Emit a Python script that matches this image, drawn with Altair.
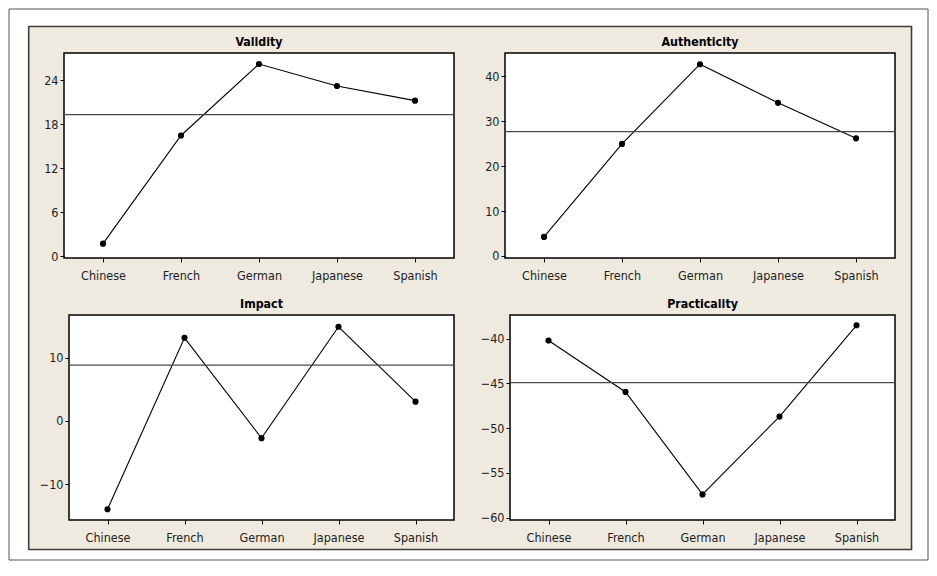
import altair as alt
import pandas as pd

languages = ["Chinese", "French", "German", "Japanese", "Spanish"]

validity = [1.7, 16.45, 26.2, 23.2, 21.2]
authenticity = [4.25, 24.96, 42.7, 34.1, 26.2]
impact = [-13.9, 13.1, -2.7, 14.85, 3.04]
practicality = [-40.2, -45.95, -57.4, -48.7, -38.5]

reference_values = {"Validity": 19.3, "Authenticity": 27.7, "Impact": 8.8, "Practicality": -44.9}
y_domains = {
    "Validity": [-0.26, 27.7],
    "Authenticity": [-0.45, 45.2],
    "Impact": [-15.6, 16.7],
    "Practicality": [-60.26, -37.35],
}
y_ticks = {
    "Validity": [0, 6, 12, 18, 24],
    "Authenticity": [0, 10, 20, 30, 40],
    "Impact": [-10, 0, 10],
    "Practicality": [-60, -55, -50, -45, -40],
}

FONT = "DejaVu Sans Condensed"
BEIGE = "#EEEAE0"
W = 390
H = 205

one = pd.DataFrame({"a": [0]})


def panel(name, values, x0=0, extra=None):
    df = pd.DataFrame({"Language": languages, "Value": values})
    x = alt.X("Language:N", sort=languages,
              scale=alt.Scale(type="point", padding=0.5, range=[x0, W]),
              axis=alt.Axis(title=None, labelAngle=0, zindex=2))
    yaxis = alt.Axis(title=None, values=y_ticks[name], zindex=2, offset=-x0)
    y = alt.Y("Value:Q", scale=alt.Scale(domain=y_domains[name], nice=False, zero=False), axis=yaxis)
    box = alt.Chart(one).mark_rect(fill="white", stroke="black", strokeWidth=1.5).encode(
        x=alt.value(x0), x2=alt.value(W), y=alt.value(0), y2=alt.value(H))
    base = alt.Chart(df)
    line = base.mark_line(color="black", strokeWidth=1.1).encode(x=x, y=y)
    pts = base.mark_circle(color="black", size=38, opacity=1).encode(x=x, y=y)
    rule = alt.Chart(pd.DataFrame({"ref": [reference_values[name]]})).mark_rule(
        color="#4a4a4a", strokeWidth=1.3).encode(
        y=alt.Y("ref:Q", axis=yaxis), x=alt.value(x0), x2=alt.value(W))
    title = alt.Chart(one).mark_text(
        text=name, font=FONT, fontSize=12.3, fontWeight="bold", color="black",
        align="center", baseline="alphabetic",
    ).encode(x=alt.value((x0 + W) / 2), y=alt.value(-6.8))
    layers = (extra or []) + [box, line, rule, pts, title]
    return alt.layer(*layers).properties(
        width=W, height=H, view=alt.ViewBackground(fillOpacity=0, strokeOpacity=0))


# decorative outer frame and beige background (positions relative to the first panel)
frame = alt.Chart(one).mark_rect(fill="white", stroke="#555555", strokeWidth=1).encode(
    x=alt.value(-55), x2=alt.value(864), y=alt.value(-44), y2=alt.value(507))
beige = alt.Chart(one).mark_rect(fill=BEIGE, stroke="#3c3c3c", strokeWidth=1.6).encode(
    x=alt.value(-35.3), x2=alt.value(847.5), y=alt.value(-26.5), y2=alt.value(496.5))

p1 = panel("Validity", validity, extra=[frame, beige])
p2 = panel("Authenticity", authenticity)
p3 = panel("Impact", impact, x0=5)
p4 = panel("Practicality", practicality, x0=5)

chart = alt.concat(
    p1, p2, p3, p4, columns=2, bounds="flush",
    spacing={"row": 57, "column": 51},
).properties(
    padding={"left": 0, "top": 0, "right": 0, "bottom": 0},
    background="white",
).configure_view(
    fillOpacity=0, strokeOpacity=0
).configure_axis(
    domain=False, grid=False, ticks=True, tickSize=4, tickColor="black", tickWidth=1,
    labelFont=FONT, labelFontSize=12.5, labelColor="#1e1e1e",
).configure_axisX(labelPadding=7).configure_axisY(labelPadding=2)

chart.save("out.html", embed_options={"renderer": "svg", "actions": False})
